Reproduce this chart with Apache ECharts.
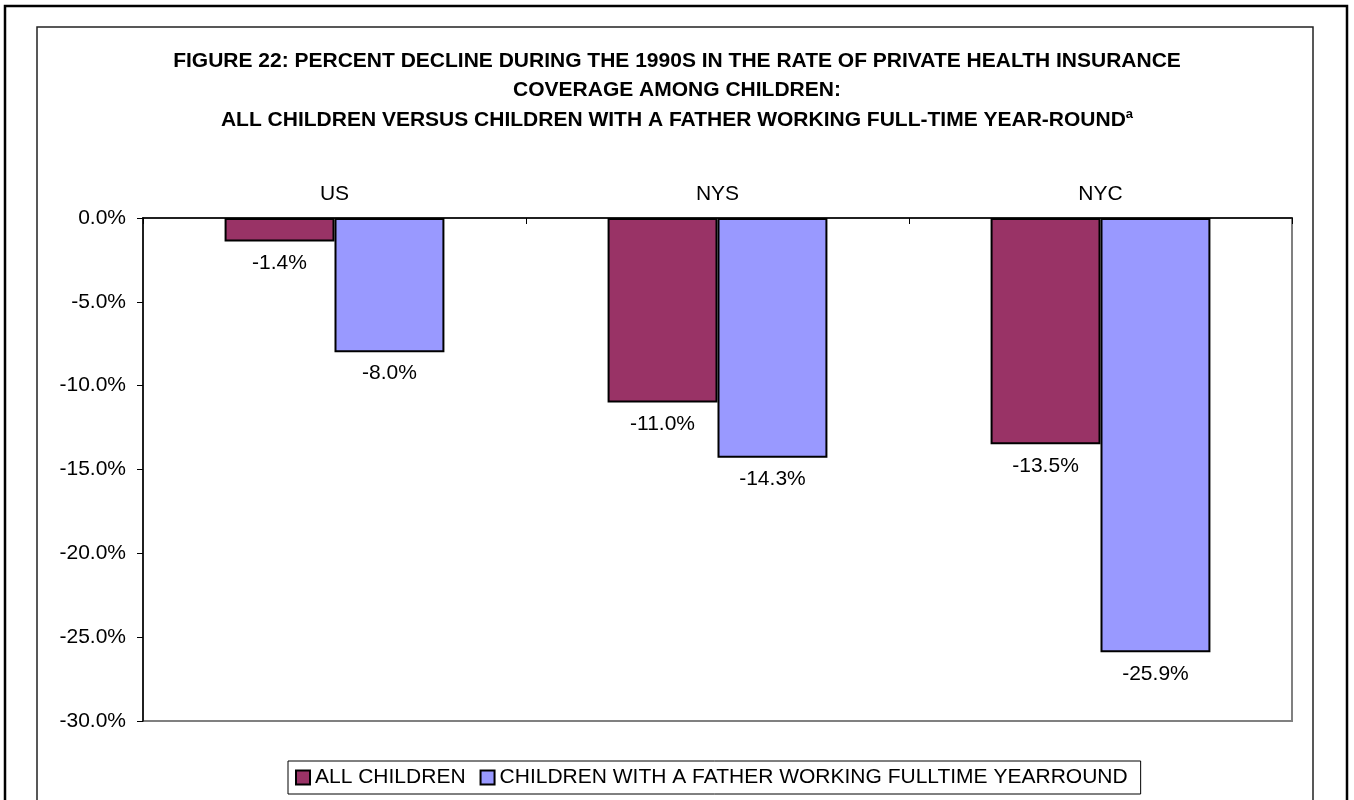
<!DOCTYPE html>
<html>
<head>
<meta charset="utf-8">
<script src="https://cdn.jsdelivr.net/npm/echarts@6/dist/echarts.min.js"></script>
<style>
  html, body { margin: 0; padding: 0; background: #fff; }
  #main { width: 1354px; height: 800px; }
</style>
</head>
<body>
<div id="main"></div>
<script>
// data
var categories = ['US', 'NYS', 'NYC'];
var allChildren = [-1.4, -11.0, -13.5];
var fatherFullTime = [-8.0, -14.3, -25.9];
var seriesNames = ['ALL CHILDREN', 'CHILDREN WITH A FATHER WORKING FULLTIME YEARROUND'];
var titleLines = [
  'FIGURE 22: PERCENT DECLINE DURING THE 1990S IN THE RATE OF PRIVATE HEALTH INSURANCE',
  'COVERAGE AMONG CHILDREN:',
  'ALL CHILDREN VERSUS CHILDREN WITH A FATHER WORKING FULL-TIME YEAR-ROUND'
];

window.onload = function () {
  var myChart = echarts.init(document.getElementById('main'));
  var font = 'Liberation Sans, Arial, sans-serif';
  var fs = 21;

  function pct(v) { return v.toFixed(1) + '%'; }

  var labelOpt = {
    show: true,
    position: 'bottom',
    distance: 11,
    fontSize: fs,
    fontFamily: font,
    color: '#000',
    formatter: function (p) { return pct(p.value); }
  };

  var option = {
    backgroundColor: '#fff',
    animation: false,
    textStyle: { fontFamily: font },
    graphic: [
      // outer frame
      { type: 'rect', shape: { x: 5, y: 6, width: 1342, height: 820 },
        style: { fill: 'none', stroke: '#000', lineWidth: 2.5 }, silent: true },
      // inner frame
      { type: 'rect', shape: { x: 37, y: 27, width: 1276, height: 800 },
        style: { fill: 'none', stroke: '#222', lineWidth: 1.5 }, silent: true },
      { type: 'text', x: 677, y: 61,
        style: { text: titleLines[0], font: 'bold ' + fs + 'px ' + font, fill: '#000',
                 textAlign: 'center', textVerticalAlign: 'middle' } },
      { type: 'text', x: 677, y: 90,
        style: { text: titleLines[1], font: 'bold ' + fs + 'px ' + font, fill: '#000',
                 textAlign: 'center', textVerticalAlign: 'middle' } },
      { type: 'text', x: 677, y: 120,
        style: {
          text: '{m|' + titleLines[2] + '}{s|a}',
          textAlign: 'center', textVerticalAlign: 'middle',
          rich: {
            m: { fontSize: fs, fontWeight: 'bold', fontFamily: font, color: '#000', lineHeight: 24 },
            s: { fontSize: 13, fontWeight: 'bold', fontFamily: font, color: '#000',
                 lineHeight: 13, verticalAlign: 'top' }
          }
        } }
    ],
    legend: {
      data: seriesNames,
      left: 288,
      top: 761,
      padding: [6, 13, 6, 7],
      itemWidth: 14,
      itemHeight: 14,
      itemGap: 14,
      icon: 'rect',
      borderColor: '#000',
      borderWidth: 1,
      backgroundColor: '#fff',
      textStyle: { fontSize: fs, fontFamily: font, color: '#000' }
    },
    grid: {
      left: 143, top: 218, right: 62, bottom: 79,
      show: true,
      borderColor: '#808080',
      borderWidth: 2,
      backgroundColor: '#fff'
    },
    xAxis: {
      type: 'category',
      data: categories,
      position: 'top',
      axisLine: { show: true, onZero: false, lineStyle: { color: '#000', width: 1.5 } },
      axisTick: { show: true, inside: true, length: 6, lineStyle: { color: '#000' } },
      axisLabel: { fontSize: fs, fontFamily: font, color: '#000', margin: 13 }
    },
    yAxis: {
      type: 'value',
      min: -30,
      max: 0,
      interval: 5,
      axisLine: { show: true, lineStyle: { color: '#000', width: 1.5 } },
      axisTick: { show: true, length: 6, lineStyle: { color: '#000' } },
      splitLine: { show: false },
      axisLabel: {
        fontSize: fs, fontFamily: font, color: '#000', margin: 17,
        formatter: function (v) { return pct(v); }
      }
    },
    series: [
      {
        name: seriesNames[0],
        type: 'bar',
        data: allChildren,
        barGap: '0%',
        barCategoryGap: '42.6%',
        itemStyle: { color: '#993366', borderColor: '#000', borderWidth: 2 },
        label: labelOpt
      },
      {
        name: seriesNames[1],
        type: 'bar',
        data: fatherFullTime,
        barGap: '0%',
        barCategoryGap: '42.6%',
        itemStyle: { color: '#9999FF', borderColor: '#000', borderWidth: 2 },
        label: labelOpt
      }
    ]
  };

  myChart.setOption(option);
};
</script>
</body>
</html>
